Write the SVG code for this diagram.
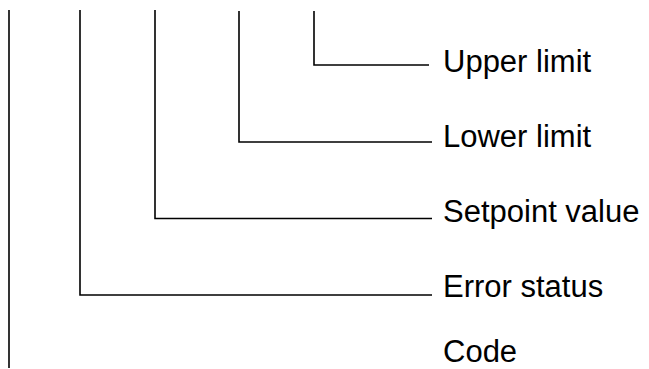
<svg xmlns="http://www.w3.org/2000/svg" width="649" height="369" viewBox="0 0 649 369">
<style>
.c{fill:none;stroke:#000;stroke-width:1.6}
.t{font-family:"Liberation Sans",Arial,sans-serif;font-size:31px;fill:#000}
</style>
<rect width="649" height="369" fill="#fff"/>
<g id="connectors">
<path class="c" d="M9,10 V368"/>
<path class="c" d="M80,10 V295 H432"/>
<path class="c" d="M155,10 V218.5 H432"/>
<path class="c" d="M239,11 V142 H432"/>
<path class="c" d="M314,11 V65 H429"/>
</g>
<g id="upper"><text class="t" x="443" y="72">Upper limit</text></g>
<g id="lower"><text class="t" x="443" y="146.5">Lower limit</text></g>
<g id="setpoint"><text class="t" x="443" y="221.5">Setpoint value</text></g>
<g id="error"><text class="t" x="443" y="296.5">Error status</text></g>
<g id="code"><text class="t" x="443" y="362">Code</text></g>
</svg>
